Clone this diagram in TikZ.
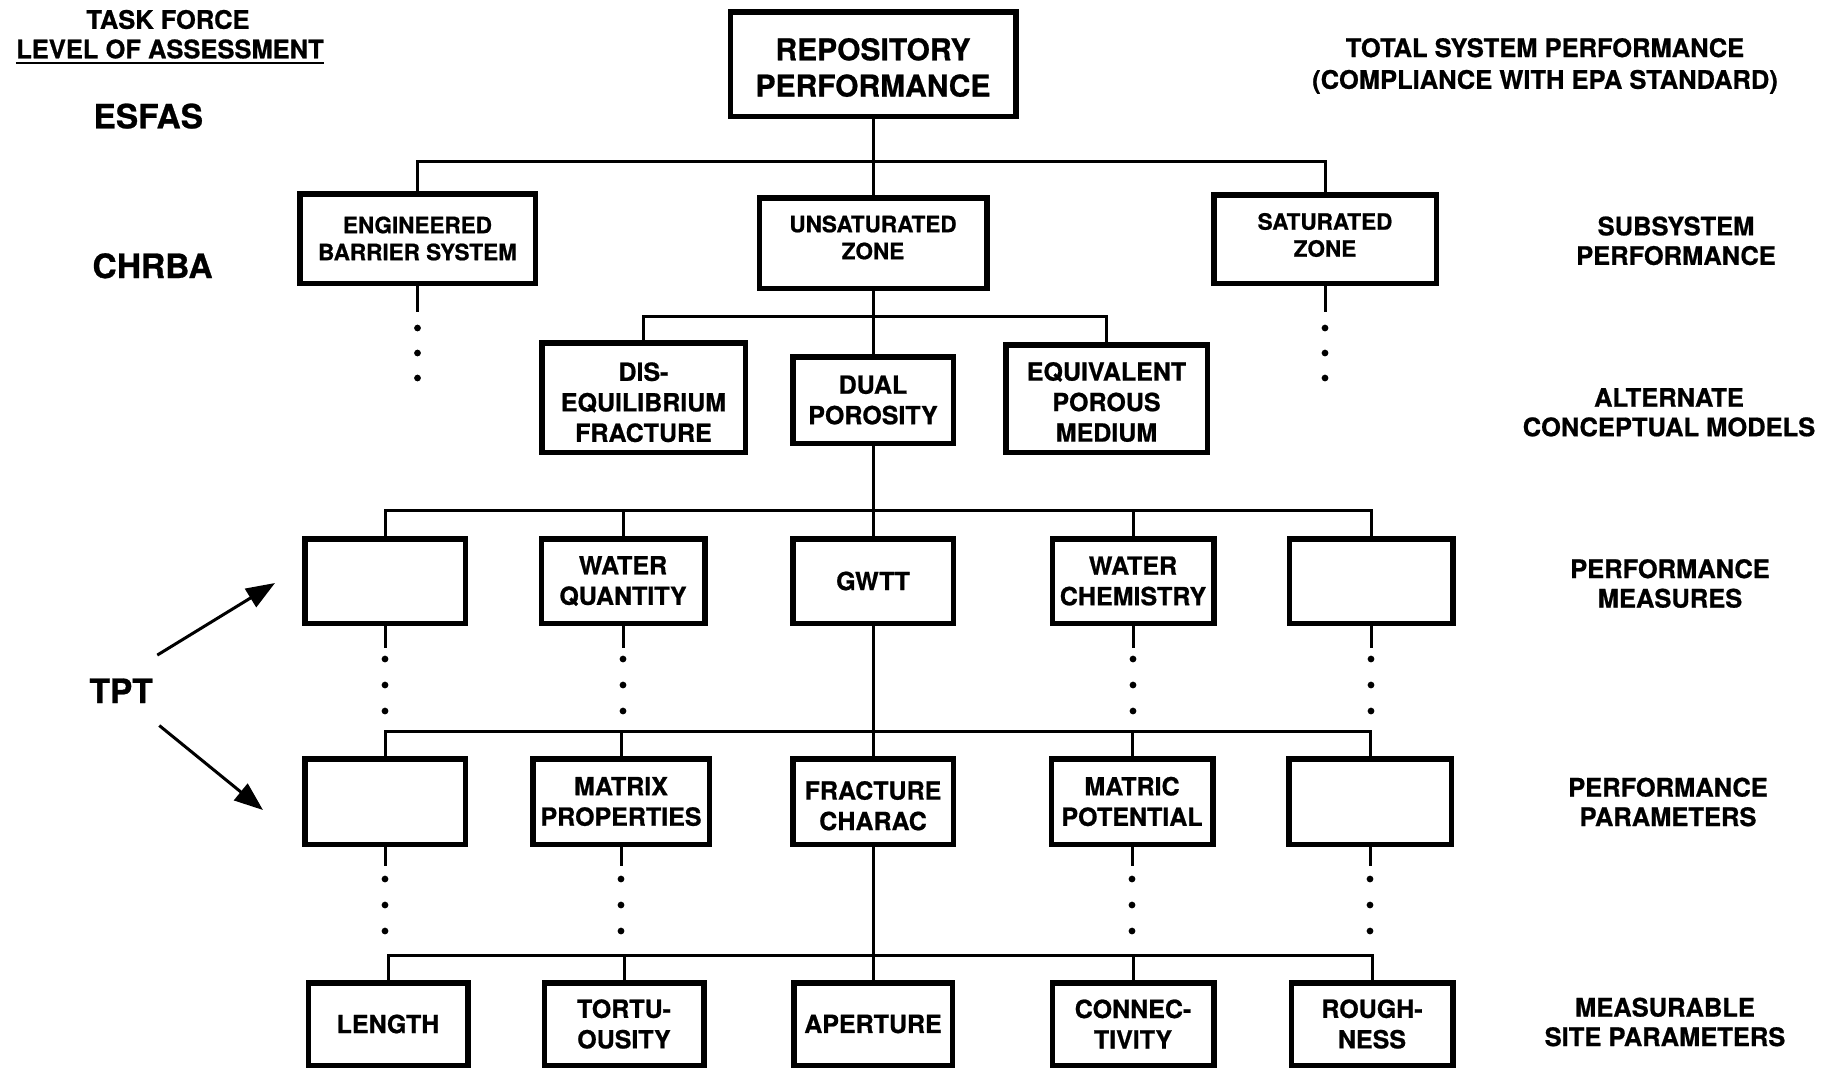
\documentclass[tikz,border=0pt]{standalone}
\usepackage{fontspec}
\setmainfont{TeX Gyre Heros}[BoldFeatures={FakeBold=0.8}]
\usetikzlibrary{arrows.meta}

% type sizes used in the chart
\newcommand\fTop{\fontsize{12}{14.5}\selectfont\bfseries}
\newcommand\fSub{\fontsize{9}{10.8}\selectfont\bfseries}
\newcommand\fBox{\fontsize{10}{12.2}\selectfont\bfseries}
\newcommand\fLab{\fontsize{10.2}{11.8}\selectfont\bfseries}
\newcommand\fBig{\fontsize{13.4}{16}\selectfont\bfseries}

% continuation stub below a box: short line and three dots
% #1 node, #2 line length, #3 first dot offset, #4 dot spacing
\newcommand\stubdots[4]{%
  \draw[conn] (#1.south) -- ++(0,#2);
  \foreach \k in {0,1,2}{\fill[dotmark] (#1.south) ++(0,#3+\k*#4) circle[radius=1.35pt];}%
}

\begin{document}
\begin{tikzpicture}[x=0.4pt,y=-0.4pt,
  conn/.style={line width=1.2pt},
  boxA/.style={draw, line width=2.2pt, inner sep=0pt, align=center, font=\fBox},
  boxtxt/.style={inner sep=0pt, align=center, font=\fBox},
  dim/.style 2 args={minimum width=#1*0.4pt-2.2pt, minimum height=#2*0.4pt-2.2pt},
  lab/.style={inner sep=0pt, align=center, font=\fLab},
  big/.style={inner sep=0pt, anchor=base west, font=\fBig},
  dotmark/.style={fill=black},
  tip/.style={-{Triangle[length=11.5pt,width=8.5pt]}}
]
\fill[white] (0,0) rectangle (1835,1069);
\useasboundingbox (0,0) rectangle (1835,1069);

% ---------- left-hand labels ----------
\node[lab] (tf) at (168,19.5) {TASK FORCE};
\node[lab] (loa) at (170,49) {LEVEL OF ASSESSMENT};
\draw[line width=1.1pt] ([yshift=-1.9pt]loa.base west) -- ([yshift=-1.9pt]loa.base east);
\node[big] (esfas) at (93,128.3) {ESFAS};
\node[big] (chrba) at (92,278) {CHRBA};
\node[big] (tpt) at (89,703) {TPT};

% ---------- right-hand labels ----------
\node[lab, font=\fontsize{10.2}{12.7}\selectfont\bfseries] (tot) at (1545,66)
  {TOTAL SYSTEM PERFORMANCE\\(COMPLIANCE WITH EPA STANDARD)};
\node[lab] (subp) at (1676,240.8) {SUBSYSTEM\\PERFORMANCE};
\node[lab] (acm) at (1669,412.3) {ALTERNATE\\CONCEPTUAL MODELS};
\node[lab] (pmeas) at (1670,583.5) {PERFORMANCE\\MEASURES};
\node[lab] (ppar) at (1668,802) {PERFORMANCE\\PARAMETERS};
\node[lab] (msp) at (1665,1022) {MEASURABLE\\SITE PARAMETERS};

% ---------- boxes ----------
\node[boxA, dim={291}{110}] (repo) at (873,64) {};
\node[boxtxt, font=\fTop] (repo-t) at ([yshift=-1.4pt]repo.center) {REPOSITORY\\PERFORMANCE};

\node[boxA, dim={241}{95}, font=\fSub] (ebs) at (417.5,238.5) {ENGINEERED\\BARRIER SYSTEM};
\node[boxA, dim={233}{96}] (uz) at (873,243) {};
\node[boxtxt, font=\fSub] (uz-t) at ([yshift=2.2pt]uz.center) {UNSATURATED\\ZONE};
\node[boxA, dim={228}{94}] (satz) at (1325,239) {};
\node[boxtxt, font=\fSub] (satz-t) at ([yshift=1.6pt]satz.center) {SATURATED\\ZONE};

\node[boxA, dim={209}{115}] (diseq) at (643.5,397.5) {};
\node[boxtxt] (diseq-t) at ([yshift=-1.9pt]diseq.center) {DIS-\\EQUILIBRIUM\\FRACTURE};
\node[boxA, dim={166}{92}] (dual) at (873,400) {DUAL\\POROSITY};
\node[boxA, dim={207}{113}] (eqp) at (1106.5,398.5) {};
\node[boxtxt] (eqp-t) at ([yshift=-1.4pt]eqp.center) {EQUIVALENT\\POROUS\\MEDIUM};

\node[boxA, dim={166}{90}] (e1a) at (385,581) {};
\node[boxA, dim={169}{90}] (wq) at (623,581) {WATER\\QUANTITY};
\node[boxA, dim={166}{90}] (gwtt) at (873,581) {GWTT};
\node[boxA, dim={167}{90}] (wc) at (1133,581) {WATER\\CHEMISTRY};
\node[boxA, dim={169}{90}] (e5a) at (1371,581) {};

\node[boxA, dim={166}{91}] (e1b) at (385,801.5) {};
\node[boxA, dim={182}{91}] (mp) at (621,801.5) {MATRIX\\PROPERTIES};
\node[boxA, dim={166}{91}] (fc) at (873,801.5) {};
\node[boxtxt] (fc-t) at ([yshift=-1.7pt]fc.center) {FRACTURE\\CHARAC};
\node[boxA, dim={167}{91}] (mpot) at (1132,801.5) {MATRIC\\POTENTIAL};
\node[boxA, dim={168}{91}] (e5b) at (1370,801.5) {};

\node[boxA, dim={165}{88}] (len) at (388,1024) {LENGTH};
\node[boxA, dim={165}{88}] (tort) at (624,1024) {TORTU-\\OUSITY};
\node[boxA, dim={164}{88}] (aper) at (873,1024) {APERTURE};
\node[boxA, dim={167}{88}] (cnn) at (1133,1024) {CONNEC-\\TIVITY};
\node[boxA, dim={167}{88}] (rough) at (1372,1024) {ROUGH-\\NESS};

% ---------- bus levels ----------
\coordinate (bus1) at (873,161);
\coordinate (bus2) at (873,316.5);
\coordinate (bus3) at (873,510.5);
\coordinate (bus4) at (873,731);
\coordinate (bus5) at (873,955);

% ---------- tree connectors ----------
\draw[conn] (repo.south) -- (uz.north);
\draw[conn] (ebs.north) |- (bus1) -| (satz.north);

\draw[conn] (uz.south) -- (dual.north);
\draw[conn] (diseq.north) |- (bus2) -| (eqp.north);

\draw[conn] (dual.south) -- (gwtt.north);
\draw[conn] (e1a.north) |- (bus3) -| (e5a.north);
\draw[conn] (wq.north) -- (wq.north |- bus3);
\draw[conn] (wc.north) -- (wc.north |- bus3);

\draw[conn] (gwtt.south) -- (fc.north);
\draw[conn] (e1b.north) |- (bus4) -| (e5b.north);
\draw[conn] (mp.north) -- (mp.north |- bus4);
\draw[conn] (mpot.north) -- (mpot.north |- bus4);

\draw[conn] (fc.south) -- (aper.north);
\draw[conn] (len.north) |- (bus5) -| (rough.north);
\draw[conn] (tort.north) -- (tort.north |- bus5);
\draw[conn] (cnn.north) -- (cnn.north |- bus5);

% ---------- continuation stubs ----------
\stubdots{ebs}{26}{42}{25}
\stubdots{satz}{26}{42}{25}
\stubdots{e1a}{22}{33}{26}
\stubdots{wq}{22}{33}{26}
\stubdots{wc}{22}{33}{26}
\stubdots{e5a}{22}{33}{26}
\stubdots{e1b}{19}{32}{26}
\stubdots{mp}{19}{32}{26}
\stubdots{mpot}{19}{32}{26}
\stubdots{e5b}{19}{32}{26}

% ---------- TPT arrows ----------
\draw[conn, tip] ([shift={(4,-23)}]tpt.north east) -- ([shift={(-27,2)}]e1a.west);
\draw[conn, tip] ([shift={(6,22)}]tpt.south east) -- ([shift={(-39,8.5)}]e1b.west);
\end{tikzpicture}
\end{document}
